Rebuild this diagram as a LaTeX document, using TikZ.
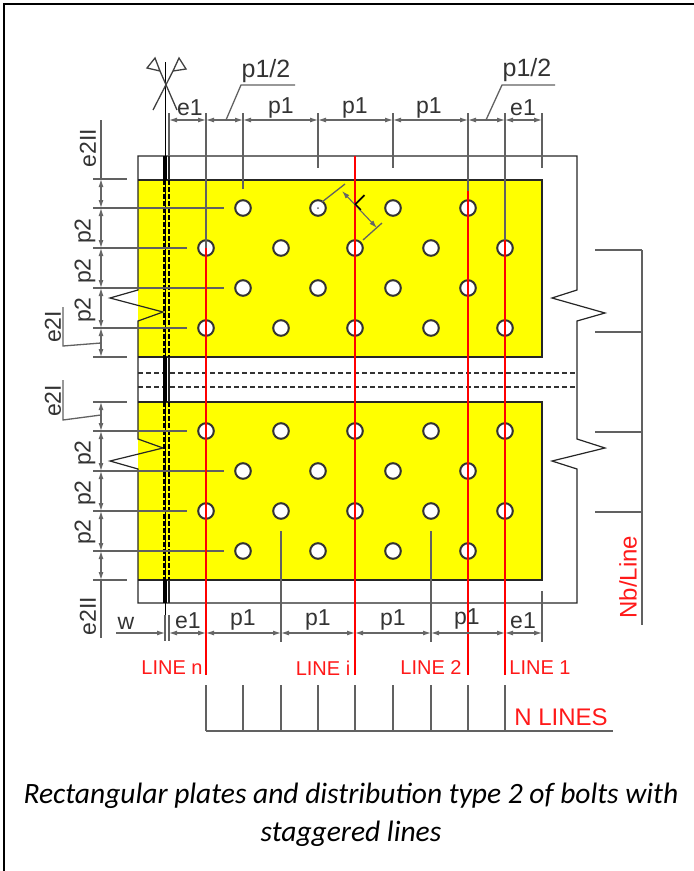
\documentclass[tikz,border=0pt]{standalone}
\usepackage{fontspec}
\setmainfont{Liberation Sans}
\newfontfamily\captionfont{Carlito}
\usetikzlibrary{arrows.meta}
\definecolor{plateyellow}{RGB}{255,255,0}
\definecolor{linered}{RGB}{255,0,0}
\begin{document}
\begin{tikzpicture}[x=1pt, y=-1pt,
            dimline/.style = {draw=black!60, line width=1.1pt, {Latex[length=8pt,width=5pt]}-{Latex[length=8pt,width=5pt]}},
            tickline/.style = {draw=black!62, line width=1.3pt},
            redline/.style = {draw=linered, line width=1.1pt},
            edgeline/.style = {draw=black!85, line width=1.2pt},
            dashline/.style = {draw=black!80, line width=1.3pt, dash pattern=on 5pt off 3pt},
            hole/.style = {draw=black!80, fill=white, line width=2pt},
            dimtext/.style = {text=black!80, font=\fontsize{23}{23}\selectfont, inner sep=0pt},
            linetext/.style = {text=linered!90!white, font=\fontsize{20}{20}\selectfont, inner sep=0pt}]
\useasboundingbox (0,0) rectangle (694,871);
\draw[line width=2pt] (4,871) -- (4,4) -- (694,4);

% plates
\fill[plateyellow] (138,180) rectangle (542,357);
\fill[plateyellow] (138,402) rectangle (542,580);
\draw[edgeline] (138,180) -- (542,180) -- (542,357) -- (138,357);
\draw[edgeline] (138,402) -- (542,402) -- (542,580) -- (138,580);
\draw[edgeline] (138,156) -- (577,156) -- (577,290) -- (552,298) -- (605,313) -- (577,321)
    -- (577,439) -- (605,448) -- (552,461) -- (577,469) -- (577,603) -- (138,603)
    -- (138,469) -- (110,461) -- (163,448) -- (138,439)
    -- (138,321) -- (163,312) -- (110,298) -- (138,290) -- cycle;
\draw[dashline] (138,373) -- (577,373);
\draw[dashline] (138,387) -- (577,387);

% beam axis
\draw[black, line width=3.5pt] (165,156) -- (165,180);
\draw[black, line width=3.5pt] (165,357) -- (165,402);
\draw[black, line width=3.5pt] (165,580) -- (165,603);
\draw[edgeline] (169,156) -- (169,180);
\draw[edgeline] (169,357) -- (169,402);
\draw[edgeline] (169,580) -- (169,603);
\draw[black, line width=1.5pt, dash pattern=on 5pt off 2pt] (164,180) -- (164,357);
\draw[black, line width=1.5pt, dash pattern=on 5pt off 2pt] (169,180) -- (169,357);
\draw[black, line width=1.5pt, dash pattern=on 5pt off 2pt] (164,402) -- (164,580);
\draw[black, line width=1.5pt, dash pattern=on 5pt off 2pt] (169,402) -- (169,580);
\draw[black, line width=1.2pt] (165.5,62) -- (165.5,641);
\draw[black!75, line width=1.3pt] (153,110) -- (173,71);
\draw[black!75, line width=1.3pt] (177,110) -- (160,71);
\draw[black!75, line width=1.3pt] (160,71) -- (155,58) -- (147,68) -- cycle;
\draw[black!75, line width=1.3pt] (173,71) -- (179,58) -- (186,69) -- cycle;

% bottom ticks and side leaders
\foreach \y in {179,357,402,580}
    \draw[tickline] (93,\y) -- (127,\y);
\foreach \y in {208,288,471,551}
    \draw[tickline] (93,\y) -- (224,\y);
\foreach \y in {248,328,431,511}
    \draw[tickline] (93,\y) -- (187,\y);
\foreach \x in {206,281,355,431,505}
    \draw[tickline] (\x,531) -- (\x,642);
\draw[tickline] (542,591) -- (542,642);
\draw[tickline] (165,615) -- (165,641);
\draw[tickline] (169,615) -- (169,641);

% bolts
\foreach \y in {208,288,471,551}
    \foreach \x in {243,318,393,468}
        \draw[hole] (\x,\y) circle [radius=7.8pt];
\foreach \y in {248,328,431,511}
    \foreach \x in {206,281,355,431,505}
        \draw[hole] (\x,\y) circle [radius=7.8pt];
\fill[black!60] (318,208) circle [radius=1pt];

% red lines
\draw[redline] (206,156) -- (206,675);
\draw[redline] (355,156) -- (355,675);
\draw[redline] (468,156) -- (468,675);
\draw[redline] (505,240) -- (505,675);

% top ticks
\draw[tickline] (206,113) -- (206,248);
\draw[tickline] (243,113) -- (243,189);
\foreach \x in {318,393,542}
    \draw[tickline] (\x,113) -- (\x,168);
\draw[tickline] (468,113) -- (468,191);
\draw[tickline] (505,113) -- (505,240);
\draw[tickline] (169,113) -- (169,156);

% top dimensions
\foreach \a/\b in {169/206,206/243,243/318,318/393,393/468,468/505,505/542}
    \draw[dimline] (\a,120) -- (\b,120);
\draw[tickline] (226,120) -- (241,85) -- (295,85);
\draw[tickline] (486,120) -- (502,85) -- (555,85);
\node[dimtext] (e1a) at (190,108) {e1};
\node[dimtext] (p1a) at (281,108) {p1};
\node[dimtext] (p1b) at (355,108) {p1};
\node[dimtext] (p1c) at (429,108) {p1};
\node[dimtext] (e1b) at (523,108) {e1};
\node[dimtext, font=\fontsize{25}{25}\selectfont] (halfa) at (266,71) {p1/2};
\node[dimtext, font=\fontsize{25}{25}\selectfont] (halfb) at (527,70) {p1/2};

% left dimensions
\draw[tickline] (101,120) -- (101,179);
\draw[tickline] (101,580) -- (101,638);
\foreach \a/\b in {179/208,208/248,248/288,288/328,328/357,402/431,431/471,471/511,511/551,551/580}
    \draw[dimline] (101,\a) -- (101,\b);
\draw[tickline] (63,307) -- (63,346) -- (101,343);
\draw[tickline] (63,380) -- (63,420) -- (101,415);
\foreach \y/\nm in {231/a,271/b,310/c,453/d,493/e,532/f}
    \node[dimtext, rotate=90] (ptwo\nm) at (85,\y) {p2};
\node[dimtext, rotate=90] (eiia) at (88,148) {e2II};
\node[dimtext, rotate=90] (eiib) at (88,616) {e2II};
\node[dimtext, rotate=90] (eia) at (53,327) {e2I};
\node[dimtext, rotate=90] (eib) at (53,401) {e2I};

% bottom dimensions
\draw[draw=black!60, line width=1.1pt, -{Latex[length=8pt,width=5pt]}] (116,633) -- (165,633);
\foreach \a/\b in {169/206,206/281,281/355,355/431,431/505,505/542}
    \draw[dimline] (\a,633) -- (\b,633);
\node[dimtext] (wtext) at (126,623) {w};
\node[dimtext] (e1c) at (188,621) {e1};
\node[dimtext] (p1d) at (243,620) {p1};
\node[dimtext] (p1e) at (318,620) {p1};
\node[dimtext] (p1f) at (393,620) {p1};
\node[dimtext] (p1g) at (467,619) {p1};
\node[dimtext] (e1d) at (523,621) {e1};

% pitch across the lines
\draw[tickline] (322,202) -- (345,184);
\draw[tickline] (363,240) -- (382,223);
\draw[dimline] (342,191) -- (377,228);
\node[inner sep=0pt, rotate=-45, font=\fontsize{20}{20}\selectfont] (ltext) at (362,203) {L};

% line labels
\node[linetext] (linen) at (172,668) {LINE n};
\node[linetext] (linei) at (323,668) {LINE i};
\node[linetext] (lineb) at (431,668) {LINE 2};
\node[linetext] (linea) at (540,668) {LINE 1};
\node[linetext, font=\fontsize{24}{24}\selectfont] (nlines) at (561,717) {N LINES};
\node[linetext, rotate=90, font=\fontsize{24}{24}\selectfont] (nbline) at (628,577) {Nb/Line};

% brackets
\draw[tickline] (642,250) -- (642,625);
\foreach \y in {250,332,432,512}
    \draw[tickline] (595,\y) -- (642,\y);
\draw[tickline] (206,731) -- (613,731);
\foreach \x in {206,243,281,318,355,393,431,468,505}
    \draw[tickline] (\x,685) -- (\x,731);

% caption
\node[inner sep=0pt, font=\captionfont\itshape\fontsize{29.5}{29.5}\selectfont] (captiona) at (351,796) {Rectangular plates and distribution type 2 of bolts with};
\node[inner sep=0pt, font=\captionfont\itshape\fontsize{29.5}{29.5}\selectfont] (captionb) at (351,834) {staggered lines};
\end{tikzpicture}
\end{document}
